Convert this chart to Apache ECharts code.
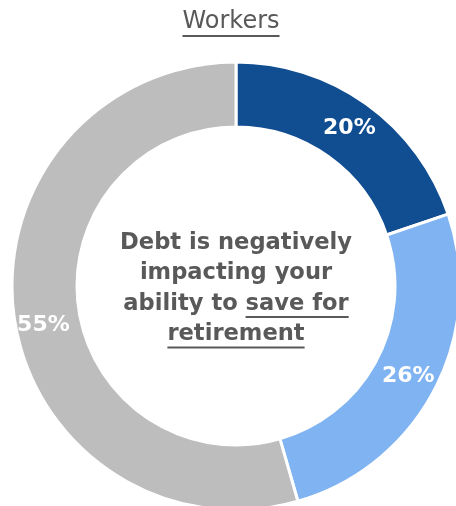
<!DOCTYPE html>
<html>
<head>
<meta charset="utf-8">
<script src="https://cdn.jsdelivr.net/npm/echarts@6/dist/echarts.min.js"></script>
<style>
html,body{margin:0;padding:0;background:#fff;}
#chart{width:456px;height:506px;}
</style>
</head>
<body>
<div id="chart"></div>
<script>
var titleText = 'Workers';
var categories = ['Major impact', 'Some impact', 'No impact'];
var values = [20, 26, 55];
var colors = ['#114D91', '#80B3F1', '#BDBDBD'];
var centerLines = [
  [{t: 'Debt is negatively', u: false}],
  [{t: 'impacting your', u: false}],
  [{t: 'ability to ', u: false}, {t: 'save for', u: true}],
  [{t: 'retirement', u: true}]
];

var FONT = '"DejaVu Sans", sans-serif';
var textColor = '#595959';
var cx = 236, cy = 286;

var chart = echarts.init(document.getElementById('chart'), null, {renderer: 'canvas'});
var ctx = document.createElement('canvas').getContext('2d');
function measure(t, size, weight) {
  ctx.font = weight + ' ' + size + 'px ' + FONT;
  return ctx.measureText(t).width;
}
function fitSize(t, weight, target) {
  return Math.round(20 * target / measure(t, 20, weight) * 10) / 10;
}

var graphics = [];
// title
var tSize = Math.min(24, fitSize(titleText, 'normal', 105));
var tw = measure(titleText, tSize, 'normal');
graphics.push({type: 'text', x: 231 - tw / 2, y: 22, style: {text: titleText, font: 'normal ' + tSize + 'px ' + FONT, fill: textColor, verticalAlign: 'middle'}});
graphics.push({type: 'rect', x: 231 - tw / 2, y: 35, shape: {width: tw, height: 2}, style: {fill: textColor}});

// center text
var cSize = Math.min(24, fitSize('Debt is negatively', 'bold', 232));
var lineH = 30.5, firstY = 243;
centerLines.forEach(function (parts, i) {
  var full = parts.map(function (p) { return p.t; }).join('');
  var w = measure(full, cSize, 'bold');
  var x = cx - w / 2;
  var yc = firstY + i * lineH;
  parts.forEach(function (p) {
    var pw = measure(p.t, cSize, 'bold');
    graphics.push({type: 'text', x: x, y: yc, style: {text: p.t, font: 'bold ' + cSize + 'px ' + FONT, fill: textColor, verticalAlign: 'middle', align: 'left'}});
    if (p.u) {
      graphics.push({type: 'rect', x: x, y: yc + 12, shape: {width: pw, height: 2}, style: {fill: textColor}});
    }
    x += pw;
  });
});

var data = values.map(function (v, i) {
  var d = {name: categories[i], value: v, itemStyle: {color: colors[i]}};
  if (i === 2) d.label = {offset: [0, 12]};
  return d;
});

chart.setOption({
  animation: false,
  series: [{
    type: 'pie',
    center: [cx, cy],
    radius: [159, 224],
    startAngle: 90,
    clockwise: true,
    avoidLabelOverlap: false,
    itemStyle: {borderColor: '#ffffff', borderWidth: 3},
    label: {show: true, position: 'inside', formatter: '{c}%', color: '#ffffff', fontSize: 22, fontWeight: 'bold', fontFamily: FONT},
    labelLine: {show: false},
    emphasis: {disabled: true},
    data: data
  }],
  graphic: graphics
});
</script>
</body>
</html>
